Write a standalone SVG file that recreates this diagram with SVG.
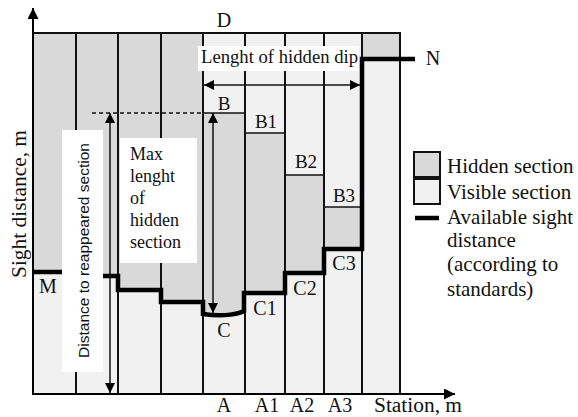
<svg xmlns="http://www.w3.org/2000/svg" width="578" height="417" viewBox="0 0 578 417">
<style>
.hid{fill:#d9d9d9}
.vis{fill:#f1f1f1}
.col{stroke:#111;stroke-width:2;fill:none}
.thin{stroke:#111;stroke-width:1.5;fill:none}
.thick{stroke:#000;stroke-width:4.5;fill:none;stroke-linejoin:miter}
.box{fill:#fff}
.s{font-family:"Liberation Serif","Times New Roman",serif;fill:#111}
.ss{font-family:"Liberation Sans",Arial,sans-serif;fill:#111}
</style>
<defs>
<marker id="ah" viewBox="0 0 10 10" refX="10" refY="5" markerWidth="10" markerHeight="10" markerUnits="userSpaceOnUse" orient="auto-start-reverse">
<path d="M0,0 L10,5 L0,10 z" fill="#000"/>
</marker>
<marker id="ax" viewBox="0 0 12 12" refX="12" refY="6" markerWidth="12" markerHeight="11" markerUnits="userSpaceOnUse" orient="auto">
<path d="M0,0 L12,6 L0,12 z" fill="#000"/>
</marker>
</defs>

<g id="fills">
<rect class="vis" x="33" y="33" width="367" height="361"/>
<path class="hid" d="M33,33 H203 V302 H161 V290 H118 V276 H76 V272 H33 Z"/>
<rect class="hid" x="203" y="113" width="42" height="201"/>
<rect class="hid" x="245" y="133" width="40" height="160"/>
<rect class="hid" x="285" y="175" width="39" height="98"/>
<rect class="hid" x="324" y="207" width="38" height="42"/>
<rect class="hid" x="362" y="33" width="38" height="26"/>
</g>

<g id="grid">
<line class="col" x1="76" y1="33" x2="76" y2="394"/>
<line class="col" x1="118" y1="33" x2="118" y2="394"/>
<line class="col" x1="161" y1="33" x2="161" y2="394"/>
<line class="col" x1="203" y1="33" x2="203" y2="394"/>
<line class="col" x1="245" y1="33" x2="245" y2="394"/>
<line class="col" x1="285" y1="33" x2="285" y2="394"/>
<line class="col" x1="324" y1="33" x2="324" y2="394"/>
<line class="col" x1="362" y1="33" x2="362" y2="394"/>
<line class="col" x1="400" y1="33" x2="400" y2="394"/>
<line class="col" x1="33" y1="33" x2="401" y2="33"/>
<line class="thin" x1="203" y1="113" x2="245" y2="113"/>
<line class="thin" x1="245" y1="133" x2="285" y2="133"/>
<line class="thin" x1="285" y1="175" x2="324" y2="175"/>
<line class="thin" x1="324" y1="207" x2="362" y2="207"/>
</g>

<g id="sight-line">
<path class="thick" d="M33,272 H76 V276 H118 V290 H161 V302 H203 V314 C216,316 234,316 244,311 V293 H285 V273 H324 V249 H362 V59 H415"/>
</g>

<g id="label-boxes">
<rect class="box" x="198" y="46" width="161" height="25"/>
<rect class="box" x="62" y="130" width="41" height="242"/>
<rect class="box" x="120" y="138" width="77" height="125"/>
</g>

<g id="connectors">
<line class="thin" x1="92" y1="113" x2="203" y2="113" stroke-dasharray="4,3"/>
<line class="thin" x1="110" y1="113" x2="110" y2="393" marker-start="url(#ah)" marker-end="url(#ah)"/>
<line class="thin" x1="213" y1="113" x2="213" y2="313" marker-start="url(#ah)" marker-end="url(#ah)"/>
<line class="thin" x1="204" y1="85" x2="360" y2="85" marker-start="url(#ah)" marker-end="url(#ah)"/>
</g>

<g id="axes">
<line stroke="#000" stroke-width="2" x1="33" y1="395" x2="33" y2="8" marker-end="url(#ax)"/>
<line stroke="#000" stroke-width="2" x1="32" y1="394" x2="455" y2="394" marker-end="url(#ax)"/>
</g>

<g id="labels">
<text class="s" font-size="20" x="224" y="27" text-anchor="middle">D</text>
<text class="s" font-size="19" x="201" y="63" textLength="157" lengthAdjust="spacingAndGlyphs">Lenght of hidden dip</text>
<text class="s" font-size="19" x="224" y="110" text-anchor="middle">B</text>
<text class="s" font-size="19" x="266" y="128" text-anchor="middle">B1</text>
<text class="s" font-size="19" x="306" y="168" text-anchor="middle">B2</text>
<text class="s" font-size="19" x="344" y="202" text-anchor="middle">B3</text>
<text class="s" font-size="20" x="224" y="337" text-anchor="middle">C</text>
<text class="s" font-size="20" x="265" y="315" text-anchor="middle">C1</text>
<text class="s" font-size="20" x="305" y="295" text-anchor="middle">C2</text>
<text class="s" font-size="20" x="344" y="270" text-anchor="middle">C3</text>
<text class="s" font-size="20" x="224" y="412" text-anchor="middle">A</text>
<text class="s" font-size="20" x="267" y="412" text-anchor="middle">A1</text>
<text class="s" font-size="20" x="302" y="412" text-anchor="middle">A2</text>
<text class="s" font-size="20" x="340" y="412" text-anchor="middle">A3</text>
<text class="s" font-size="20" x="48" y="293" text-anchor="middle">M</text>
<text class="s" font-size="20" x="433" y="65" text-anchor="middle">N</text>
<text class="s" font-size="20" x="374" y="412" textLength="88" lengthAdjust="spacingAndGlyphs">Station, m</text>
<text class="s" font-size="21" transform="translate(26,204) rotate(-90)" text-anchor="middle" textLength="148" lengthAdjust="spacingAndGlyphs">Sight distance, m</text>
<text class="ss" font-size="15.5" transform="translate(89,250.5) rotate(-90)" text-anchor="middle" textLength="215" lengthAdjust="spacingAndGlyphs">Distance to reappeared section</text>
<text class="s" font-size="18" x="130" y="160">Max</text>
<text class="s" font-size="18" x="130" y="182">lenght</text>
<text class="s" font-size="18" x="130" y="204">of</text>
<text class="s" font-size="18" x="130" y="226">hidden</text>
<text class="s" font-size="18" x="130" y="248">section</text>
</g>

<g id="legend">
<rect class="hid" x="414" y="152" width="26" height="25" stroke="#111" stroke-width="2"/>
<rect class="vis" x="414" y="179" width="26" height="25" stroke="#111" stroke-width="2"/>
<line class="thick" x1="415" y1="218" x2="439" y2="218"/>
<text class="s" font-size="21" x="447" y="173">Hidden section</text>
<text class="s" font-size="21" x="447" y="199">Visible section</text>
<text class="s" font-size="21" x="447" y="224">Available sight</text>
<text class="s" font-size="21" x="447" y="247">distance</text>
<text class="s" font-size="21" x="447" y="271">(according to</text>
<text class="s" font-size="21" x="447" y="296">standards)</text>
</g>
</svg>
